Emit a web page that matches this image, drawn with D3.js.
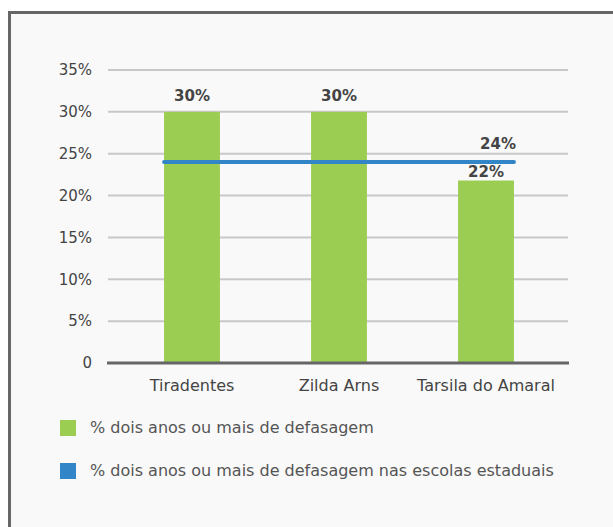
<!DOCTYPE html>
<html>
<head>
<meta charset="utf-8">
<script src="https://cdn.jsdelivr.net/npm/d3@7"></script>
<style>
	html, body { margin: 0; padding: 0; background: #fff; }
	svg { display: block; font-family: "DejaVu Sans", sans-serif; }
</style>
</head>
<body>
<div id="chart"></div>
<script>
// chart data
var escolas = ['Tiradentes', 'Zilda Arns', 'Tarsila do Amaral'];
var defasagem = [30, 30, 21.8];
var rotulos = ['30%', '30%', '22%'];
var mediaEstadual = 24;
var yTicks = [0, 5, 10, 15, 20, 25, 30, 35];
var legendas = [
	'% dois anos ou mais de defasagem',
	'% dois anos ou mais de defasagem nas escolas estaduais'
];
var cores = ['#9bcd53', '#3285c6'];

var width = 613, height = 527;
var svg = d3.select('#chart').append('svg')
	.attr('width', width)
	.attr('height', height);

// frame
svg.append('rect')
	.attr('x', 9.5).attr('y', 12.5)
	.attr('width', width + 20).attr('height', height + 20)
	.attr('fill', '#f9f9f9')
	.attr('stroke', '#666')
	.attr('stroke-width', 3);

// scales
var x = d3.scaleBand()
	.domain(escolas)
	.range([118.5, 559.5])
	.paddingInner(0.62)
	.paddingOuter(0.31);

var y = d3.scaleLinear()
	.domain([0, 35])
	.range([363, 70]);

// grid
svg.append('g')
	.selectAll('line')
	.data(yTicks.filter(function(d) { return d > 0; }))
	.enter().append('line')
		.attr('x1', 108).attr('x2', 568)
		.attr('y1', function(d) { return y(d); })
		.attr('y2', function(d) { return y(d); })
		.attr('stroke', '#c8c8c8')
		.attr('stroke-width', 2);

// y axis labels
var yAxis = svg.append('g')
	.attr('transform', 'translate(108,0)')
	.call(d3.axisLeft(y)
		.tickValues(yTicks)
		.tickSize(0)
		.tickPadding(16)
		.tickFormat(function(d) { return d === 0 ? '0' : d + '%'; }));
yAxis.select('.domain').remove();
yAxis.selectAll('text')
	.attr('font-family', '"DejaVu Sans", sans-serif')
	.attr('font-size', 15)
	.attr('fill', '#444');

// bars
svg.append('g')
	.selectAll('rect')
	.data(defasagem)
	.enter().append('rect')
		.attr('x', function(d, i) { return x(escolas[i]); })
		.attr('y', function(d) { return y(d); })
		.attr('width', x.bandwidth())
		.attr('height', function(d) { return y(0) - y(d); })
		.attr('fill', cores[0]);

// bar labels (pushed closer to the bar when the average line is in the way)
svg.append('g')
	.selectAll('text')
	.data(defasagem)
	.enter().append('text')
		.attr('x', function(d, i) { return x(escolas[i]) + x.bandwidth() / 2; })
		.attr('y', function(d) {
			var ty = y(d) - 11;
			if(ty - 12 < y(mediaEstadual) + 2 && ty > y(mediaEstadual)) ty = y(d) - 4;
			return ty;
		})
		.attr('text-anchor', 'middle')
		.attr('font-size', 15)
		.attr('font-weight', 'bold')
		.attr('fill', '#444')
		.text(function(d, i) { return rotulos[i]; });

// x axis
var xAxis = svg.append('g')
	.attr('transform', 'translate(0,' + y(0) + ')')
	.call(d3.axisBottom(x).tickSize(0).tickPadding(17));
xAxis.select('.domain').remove();
xAxis.selectAll('text')
	.attr('font-family', '"DejaVu Sans", sans-serif')
	.attr('font-size', 16)
	.attr('fill', '#444');
svg.append('line')
	.attr('x1', 107).attr('x2', 569)
	.attr('y1', y(0)).attr('y2', y(0))
	.attr('stroke', '#666')
	.attr('stroke-width', 3);

// state average line
var x0 = x(escolas[0]);
var x1 = x(escolas[escolas.length - 1]) + x.bandwidth();
svg.append('line')
	.attr('x1', x0).attr('x2', x1)
	.attr('y1', y(mediaEstadual)).attr('y2', y(mediaEstadual))
	.attr('stroke', cores[1])
	.attr('stroke-width', 4)
	.attr('stroke-linecap', 'round');
svg.append('text')
	.attr('x', x1 + 2)
	.attr('y', y(mediaEstadual) - 13)
	.attr('text-anchor', 'end')
	.attr('font-size', 15)
	.attr('font-weight', 'bold')
	.attr('fill', '#444')
	.text(mediaEstadual + '%');

// legend
var legend = svg.selectAll('.legend')
	.data(legendas)
	.enter().append('g')
		.attr('class', 'legend')
		.attr('transform', function(d, i) { return 'translate(60,' + (420 + i * 43) + ')'; });

legend.append('rect')
	.attr('width', 16)
	.attr('height', 16)
	.attr('fill', function(d, i) { return cores[i]; });

legend.append('text')
	.attr('x', 30)
	.attr('y', 13)
	.attr('font-size', 16)
	.attr('fill', '#555')
	.text(function(d) { return d; });
</script>
</body>
</html>
